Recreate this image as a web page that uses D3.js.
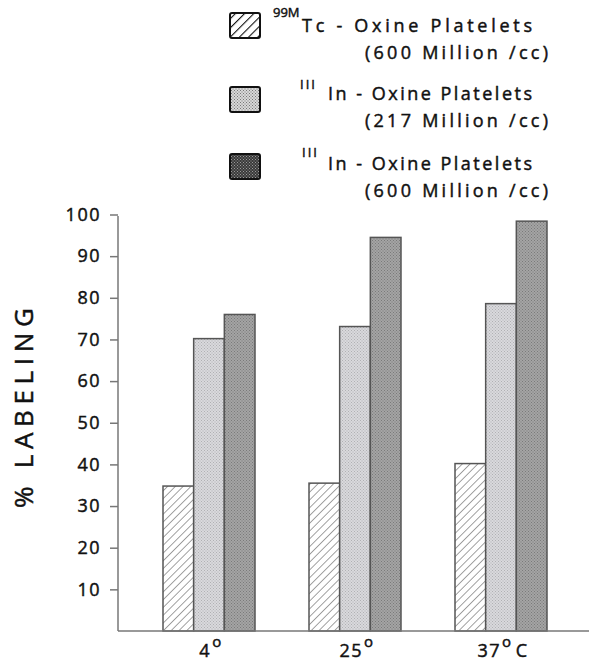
<!DOCTYPE html>
<html><head><meta charset="utf-8">
<script src="https://cdn.jsdelivr.net/npm/d3@7"></script>
<style>
html,body{margin:0;padding:0;background:#fff;}
text{font-family:"Open Sans",Lato,sans-serif;fill:#111;stroke:#111;stroke-width:0.45px;}
</style></head>
<body>
<svg id="chart" width="589" height="662"></svg>
<script>
// ---- data ----
const categories = ["4", "25", "37"];
const categoryUnits = ["", "", "C"];
const seriesNames = ["99MTc-Oxine 600", "111In-Oxine 217", "111In-Oxine 600"];
const tc600 = [34.8, 35.5, 40.2];
const in217 = [70.2, 73.1, 78.6];
const in600 = [76.0, 94.5, 98.4];
const yTicks = [10, 20, 30, 40, 50, 60, 70, 80, 90, 100];
const legendSup = ["99M", "III", "III"];
const legendLine1 = ["Tc - Oxine Platelets", "In - Oxine Platelets", "In - Oxine Platelets"];
const legendLine2 = ["(600 Million /cc)", "(217 Million /cc)", "(600 Million /cc)"];
const yLabel = "% LABELING";

const values = [tc600, in217, in600];
const svg = d3.select("#chart");
const defs = svg.append("defs");

// patterns
function hatch(id, stroke, sw, gap) {
  const p = defs.append("pattern").attr("id", id).attr("patternUnits", "userSpaceOnUse")
    .attr("width", gap).attr("height", gap).attr("patternTransform", "rotate(45)");
  p.append("rect").attr("width", gap).attr("height", gap).attr("fill", "#fff");
  p.append("line").attr("x1", 0).attr("y1", 0).attr("x2", 0).attr("y2", gap)
    .attr("stroke", stroke).attr("stroke-width", sw);
}
function stipple(id, bg, dot) {
  const p = defs.append("pattern").attr("id", id).attr("patternUnits", "userSpaceOnUse")
    .attr("width", 3).attr("height", 3);
  p.append("rect").attr("width", 3).attr("height", 3).attr("fill", bg);
  p.append("rect").attr("x", 0).attr("y", 0).attr("width", 1).attr("height", 1).attr("fill", dot);
  p.append("rect").attr("x", 1.5).attr("y", 1.5).attr("width", 1).attr("height", 1).attr("fill", dot);
}
hatch("hatchBar", "#555", 1.1, 5.5);
stipple("lightBar", "#d9d9dc", "#b0b0b4");
stipple("darkBar", "#a4a4a4", "#7a7a7a");
hatch("hatchLeg", "#111", 2.2, 6.5);
stipple("lightLeg", "#d8d8d8", "#777");
stipple("darkLeg", "#3a3a3a", "#999");

const barFills = ["url(#hatchBar)", "url(#lightBar)", "url(#darkBar)"];
const legFills = ["url(#hatchLeg)", "url(#lightLeg)", "url(#darkLeg)"];

// scales
const x0 = 118, yBase = 631;
const y = d3.scaleLinear().domain([0, 100]).range([yBase, 214.5]);
const xGroup = d3.scaleBand().domain(categories).range([136, 574]).padding(0);
const xSub = d3.scaleBand().domain(d3.range(3)).range([0, 92]);
const off = (xGroup.bandwidth() - 92) / 2;

// bars
const g = svg.append("g");
categories.forEach((c, ci) => {
  values.forEach((arr, si) => {
    const v = arr[ci];
    g.append("rect")
      .attr("x", xGroup(c) + off + xSub(si))
      .attr("y", y(v))
      .attr("width", xSub.bandwidth())
      .attr("height", y(0) - y(v))
      .attr("fill", barFills[si])
      .attr("stroke", "#555").attr("stroke-width", 1.5);
  });
});

// axes
const yAxis = d3.axisLeft(y).tickValues(yTicks).tickSize(8).tickPadding(9).tickFormat(d3.format("d"));
const ya = svg.append("g").attr("transform", `translate(${x0},0)`).call(yAxis);
ya.select(".domain").remove();
ya.selectAll(".tick line").attr("stroke", "#777").attr("stroke-width", 1.5);
ya.selectAll(".tick text").attr("font-size", 18).attr("fill", "#111")
  .style("font-family", "'Open Sans', sans-serif").attr("letter-spacing", 1.5);
svg.append("line").attr("x1", x0).attr("x2", x0).attr("y1", y(100) + 1.5).attr("y2", yBase)
  .attr("stroke", "#777").attr("stroke-width", 1.5);
svg.append("line").attr("x1", x0).attr("x2", 589).attr("y1", yBase).attr("y2", yBase)
  .attr("stroke", "#777").attr("stroke-width", 1.5);

// x labels
categories.forEach((c, ci) => {
  const cx = xGroup(c) + xGroup.bandwidth() / 2 + 2;
  const t = svg.append("text").attr("x", cx).attr("y", 657).attr("text-anchor", "middle")
    .attr("font-size", 18).attr("letter-spacing", 1.5);
  t.append("tspan").text(c);
  t.append("tspan").attr("dy", -10).attr("dx", 1).attr("font-size", 15).text("o");
  if (categoryUnits[ci]) t.append("tspan").attr("dy", 10).attr("dx", 3).text(categoryUnits[ci]);
});

// y label
svg.append("text").attr("transform", "translate(33,408) rotate(-90)")
  .attr("text-anchor", "middle").attr("font-size", 26)
  .attr("textLength", 200).attr("lengthAdjust", "spacing").text(yLabel);

// legend
const legTop = [13, 87, 154];
const supX = [273, 300, 302];
const supY = [17, 89, 157];
const l1Y = [32, 100, 170];
const l1X = [302, 328, 328];
legendSup.forEach((s, i) => {
  svg.append("rect").attr("x", 230).attr("y", legTop[i]).attr("width", 30).attr("height", 25)
    .attr("rx", 2).attr("fill", legFills[i]).attr("stroke", "#111").attr("stroke-width", 2);
  svg.append("text").attr("x", supX[i]).attr("y", supY[i]).attr("font-size", 13)
    .attr("letter-spacing", i === 0 ? 0 : 2).text(s);
  svg.append("text").attr("x", l1X[i]).attr("y", l1Y[i]).attr("font-size", 18)
    .attr("textLength", 532 - l1X[i]).attr("lengthAdjust", "spacing").text(legendLine1[i]);
  svg.append("text").attr("x", 365).attr("y", l1Y[i] + 27).attr("font-size", 18)
    .attr("textLength", 183).attr("lengthAdjust", "spacing").text(legendLine2[i]);
});
</script>
</body></html>
